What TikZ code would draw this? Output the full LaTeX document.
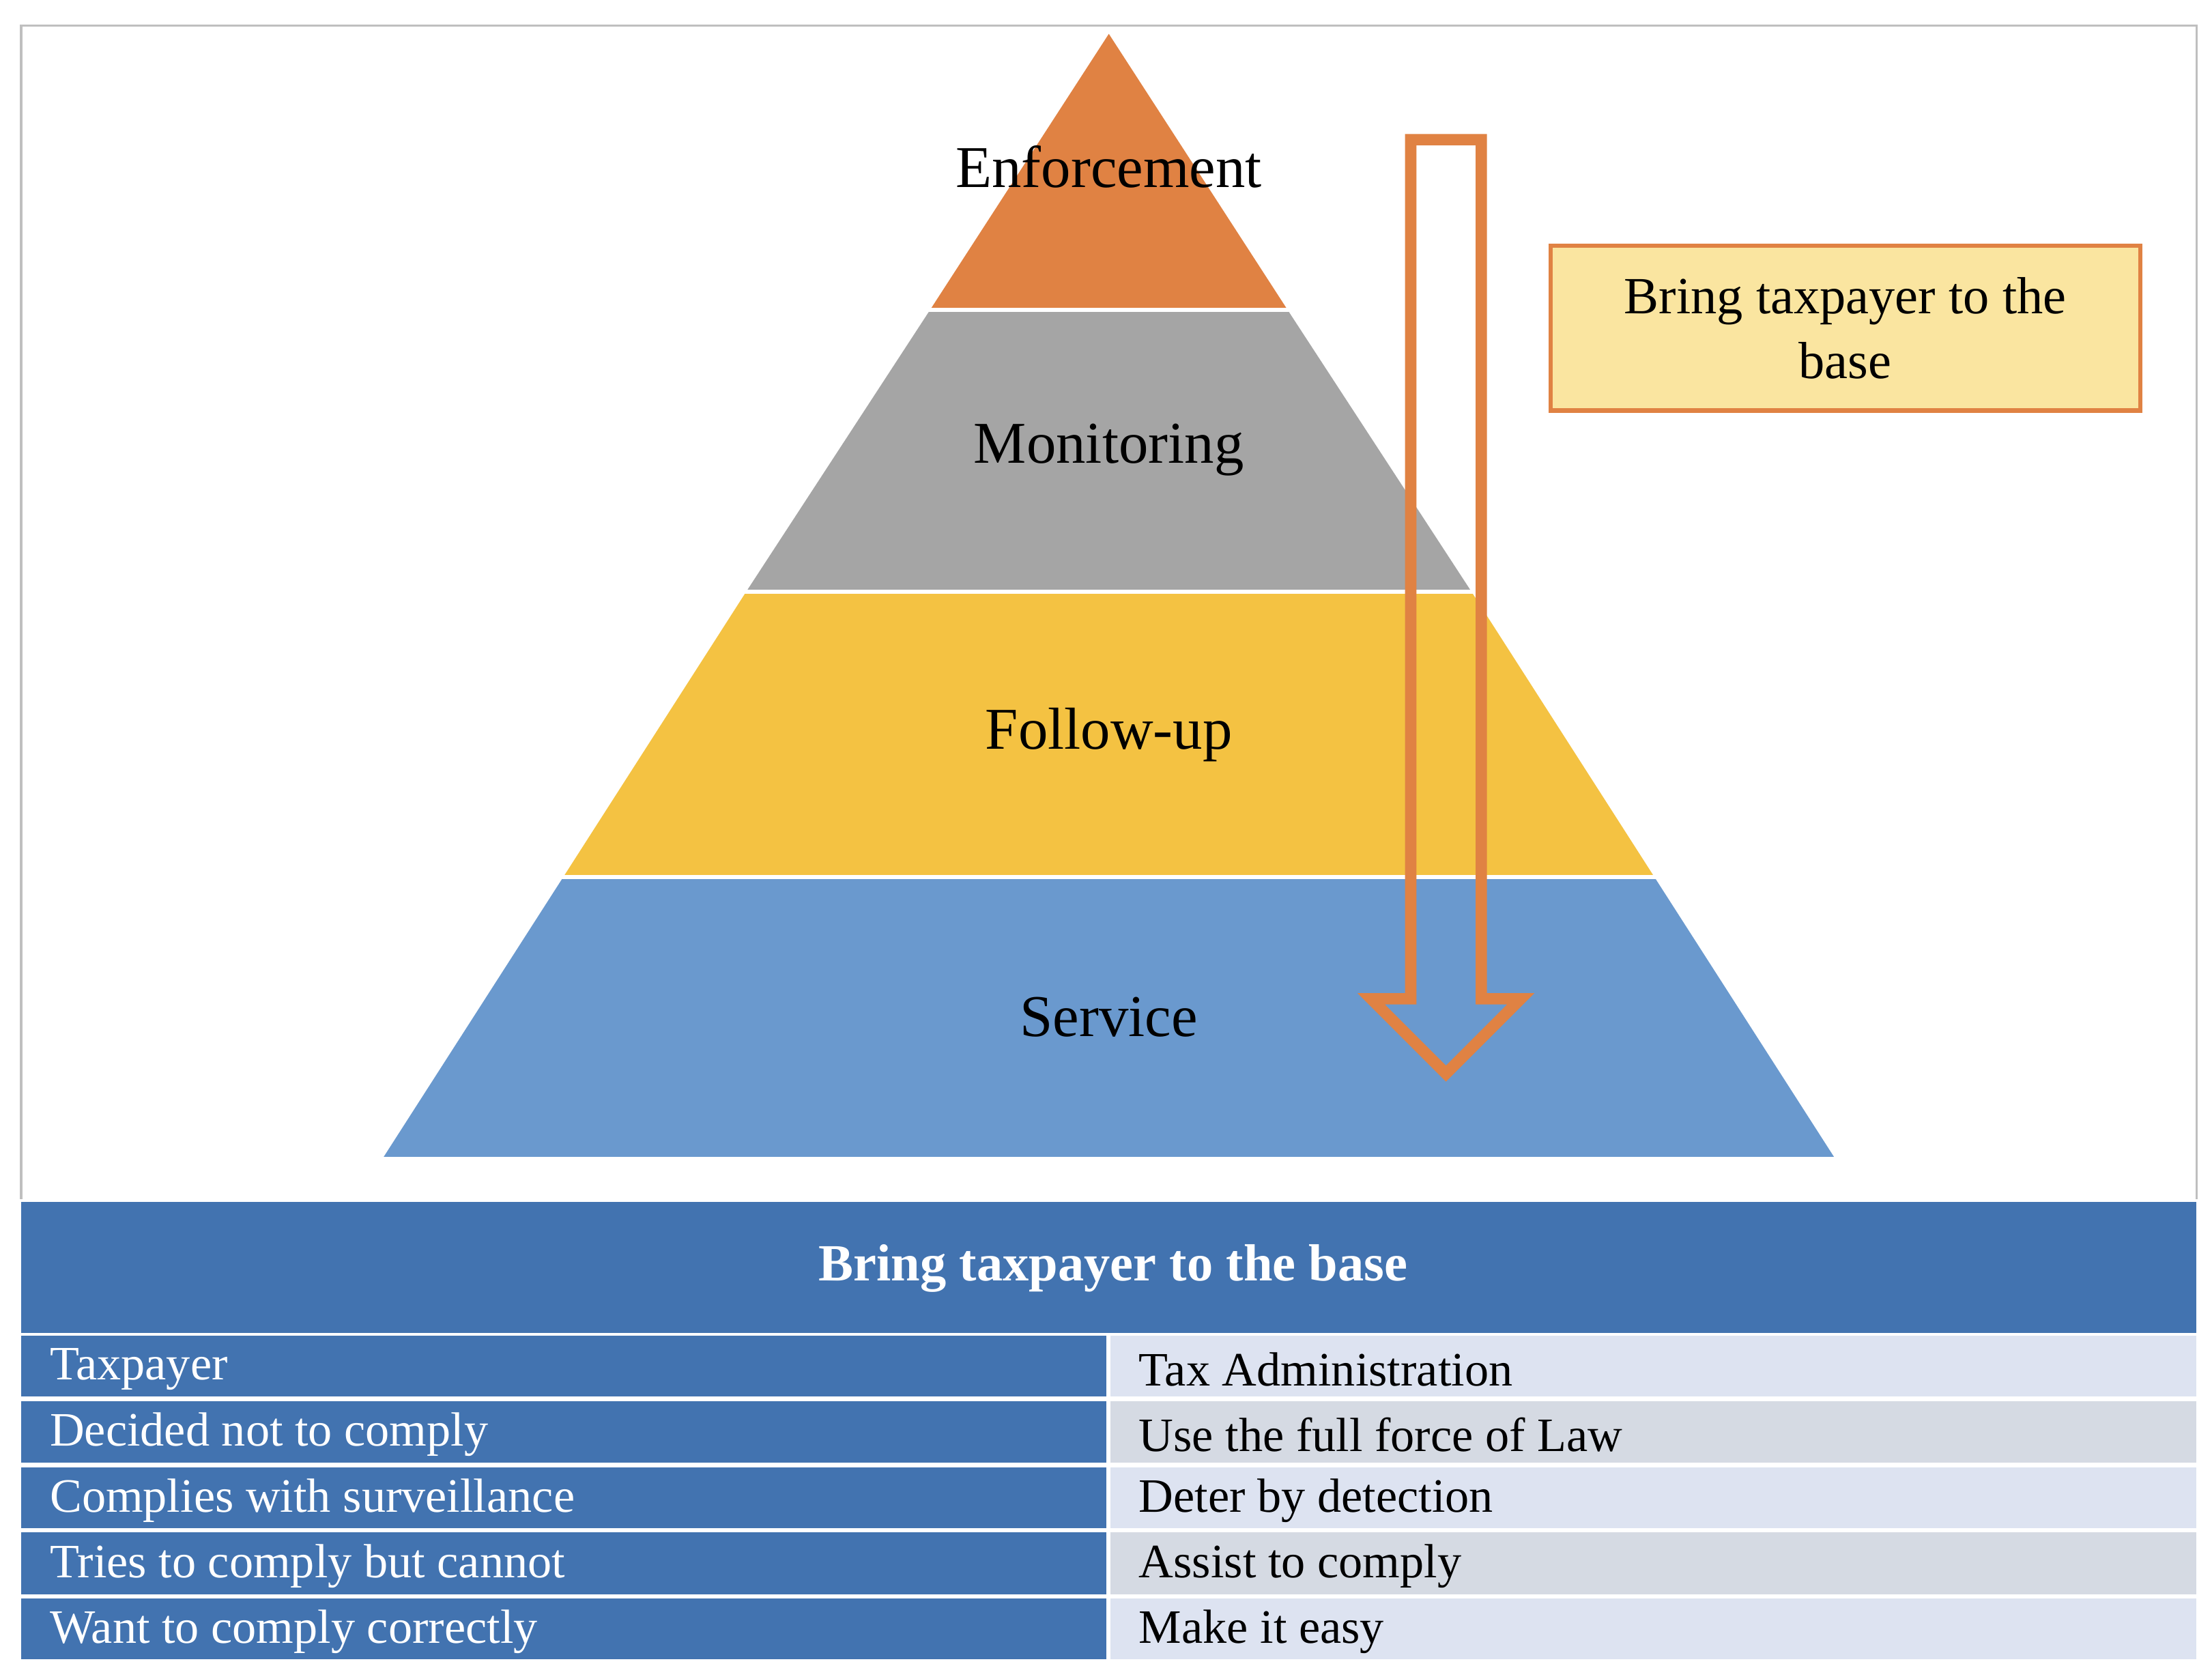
\documentclass[tikz,border=0pt]{standalone}
\usepackage{fontspec}
\setmainfont{Liberation Serif}
\begin{document}
\begin{tikzpicture}[x=0.5pt,y=-0.5pt,
  lbl/.style={font=\fontsize{21}{24}\selectfont,text=black},
  cell/.style={font=\fontsize{17}{20}\selectfont,anchor=west,inner sep=0pt},
  band/.style={draw=white,line width=1.5pt}]
\definecolor{cor}{HTML}{E08243}
\definecolor{cgr}{HTML}{A5A5A5}
\definecolor{cye}{HTML}{F4C242}
\definecolor{cbl}{HTML}{6A99CE}
\definecolor{cdb}{HTML}{4273B0}
\definecolor{cl1}{HTML}{DDE3F1}
\definecolor{cl2}{HTML}{D5DAE3}
\definecolor{cbx}{HTML}{FAE5A0}
\useasboundingbox (0,0) rectangle (1568,1190);
\fill[white] (0,0) rectangle (1568,1190);
\draw[gray!50,line width=0.8pt] (15,850) -- (15,18) -- (1557,18) -- (1557,850);
% pyramid: apex (786,24), base y=820 half width 514
\fill[cor] (786,24) -- (912.6,219.5) -- (659.4,219.5) -- cycle;
\fill[cgr] (659.4,219.5) -- (912.6,219.5) -- (1043.1,419.5) -- (528.9,419.5) -- cycle;
\fill[cye] (528.9,419.5) -- (1043.1,419.5) -- (1172.6,621.5) -- (399.4,621.5) -- cycle;
\fill[cbl] (399.4,621.5) -- (1172.6,621.5) -- (1300,820) -- (272,820) -- cycle;
\draw[band] (640,219.5) -- (930,219.5);
\draw[band] (510,419.5) -- (1060,419.5);
\draw[band] (380,621.5) -- (1190,621.5);
\node[lbl] (enf) at (786,118) {Enforcement};
\node[lbl] (mon) at (786,319) {Monitoring};
\node[lbl] (fol) at (786,521) {Follow-up};
\node[lbl] (ser) at (786,721) {Service};
% arrow
\draw[cor,line width=4pt,line join=miter] (1000,99) -- (1050,99) -- (1050,708) -- (1078,708) -- (1025,761) -- (972,708) -- (1000,708) -- cycle;
% box
\node[draw=cor,fill=cbx,line width=1.5pt,minimum width=209pt,minimum height=58.5pt,inner sep=0pt,align=center,
  font=\fontsize{18.5}{23}\selectfont] (box) at (1308,232.5) {Bring taxpayer to the\\base};
% table
\fill[cdb] (15,852) rectangle (1557,945);
\node[font=\bfseries\fontsize{18.5}{22}\selectfont,text=white] (hdr) at (789,899) {Bring taxpayer to the base};
\foreach \i/\t/\a/\b/\c in {0/947/990/Taxpayer/Tax Administration,
                              1/993/1037/Decided not to comply/Use the full force of Law,
                              2/1040/1083/Complies with surveillance/Deter by detection,
                              3/1086/1130/Tries to comply but cannot/Assist to comply,
                              4/1133/1176/Want to comply correctly/Make it easy}{
  \pgfmathtruncatemacro{\odd}{mod(\i,2)}
  \fill[cdb] (15,\t) rectangle (784,\a);
  \ifnum\odd=0 \fill[cl1] (787,\t) rectangle (1557,\a); \else \fill[cl2] (787,\t) rectangle (1557,\a); \fi
  \node[cell,text=white] (l\i) at (35,{(\t+\a)/2+2}) {\b};
  \node[cell,text=black] (r\i) at (807,{(\t+\a)/2+2}) {\c};
}
\end{tikzpicture}
\end{document}
